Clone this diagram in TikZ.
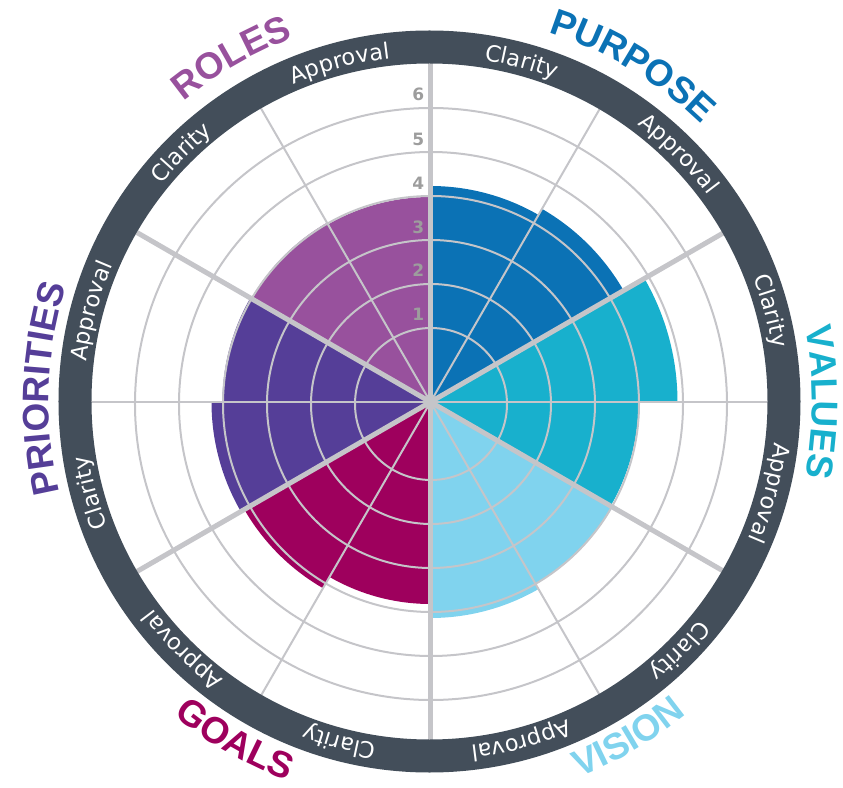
\documentclass[tikz,border=0pt]{standalone}
\usepackage{fontspec}
\setmainfont{DejaVu Sans}
\usetikzlibrary{decorations.text}
\definecolor{cpurpose}{HTML}{0B72B5}
\definecolor{cvalues}{HTML}{18B0CD}
\definecolor{cvision}{HTML}{80D3EE}
\definecolor{cgoals}{HTML}{9E005D}
\definecolor{cprior}{HTML}{553E98}
\definecolor{croles}{HTML}{98519D}
\definecolor{ringc}{HTML}{434E5A}
\definecolor{gridgray}{HTML}{C5C5C9}
\definecolor{numgray}{HTML}{9D9D9D}
\newfontfamily\labfam{DejaVu Sans}
\newfontfamily\ttlfam{Liberation Sans}
\newcommand\labfont{\labfam\fontsize{22.5pt}{27pt}\selectfont}
\newcommand\ttlfont{\ttlfam\bfseries\fontsize{37pt}{44pt}\selectfont}
\newcommand\numfont{\labfam\bfseries\fontsize{17pt}{20pt}\selectfont}
% clockwise text (tops outward): #1 centre angle, #2 baseline radius, #3 format, #4 text
\newcommand\cwlabel[4]{\path[decorate,decoration={text along path,text align=center,text={|#3|#4}}] ({#1+40}:#2) arc[start angle={#1+40},end angle={#1-40},radius=#2];}
% counter-clockwise text (tops inward)
\newcommand\ccwlabel[4]{\path[decorate,decoration={text along path,text align=center,text={|#3|#4}}] ({#1-40}:#2) arc[start angle={#1-40},end angle={#1+40},radius=#2];}
\tikzset{
  gridcircle/.style={draw=gridgray,line width=2pt},
  thinray/.style={draw=gridgray,line width=2pt},
  thickray/.style={draw=gridgray,line width=5pt},
  scalenum/.style={text=numgray,font=\numfont,anchor=east,inner sep=0pt},
}
\newcommand\sector[4]{\fill[#4] (O) -- (#1:#3) arc[start angle=#1,end angle=#2,radius=#3] -- cycle;}
\begin{document}
\begin{tikzpicture}
\useasboundingbox (-430.5pt,-385pt) rectangle (412.5pt,402pt);
\coordinate (O) at (0,0);
\coordinate (GC) at (0.5pt,-2pt);
\coordinate (RC) at (-1pt,0.5pt);
% data sectors
\sector{60}{90}{216pt}{cpurpose}
\sector{30}{60}{223pt}{cpurpose}
\sector{0}{30}{247pt}{cvalues}
\sector{-30}{0}{208pt}{cvalues}
\sector{-60}{-30}{210pt}{cvision}
\sector{-90}{-60}{216pt}{cvision}
\sector{-120}{-90}{202pt}{cgoals}
\sector{-150}{-120}{215pt}{cgoals}
\sector{-180}{-150}{219pt}{cprior}
\sector{150}{180}{208pt}{cprior}
\sector{120}{150}{207pt}{croles}
\sector{90}{120}{205pt}{croles}
% grid circles
\foreach \r in {76,120,164,208,252,296}{\draw[gridcircle] (GC) circle[radius=\r pt];}
% rays
\foreach \a in {0,60,120,180,240,300}{\draw[thinray] (O) -- (\a:339pt);}
\foreach \a in {30,90,150,210,270,330}{\draw[thickray] (O) -- (\a:339pt);}
% scale numbers
\node[scalenum] (n1) at (-6pt,88pt) {1};
\node[scalenum] (n2) at (-6pt,132pt) {2};
\node[scalenum] (n3) at (-6pt,175pt) {3};
\node[scalenum] (n4) at (-6pt,219pt) {4};
\node[scalenum] (n5) at (-6pt,263pt) {5};
\node[scalenum] (n6) at (-6pt,308pt) {6};
% outer ring
\fill[ringc,even odd rule] (RC) circle[radius=371pt] (RC) circle[radius=338pt];
% ring labels
\cwlabel{75}{346pt}{\color{white}\labfont}{Clarity}
\cwlabel{45}{346pt}{\color{white}\labfont}{Approval}
\cwlabel{15}{346pt}{\color{white}\labfont}{Clarity}
\cwlabel{-15}{346pt}{\color{white}\labfont}{Approval}
\cwlabel{-45}{346pt}{\color{white}\labfont}{Clarity}
\cwlabel{-75}{346pt}{\color{white}\labfont}{Approval}
\cwlabel{-105}{346pt}{\color{white}\labfont}{Clarity}
\cwlabel{-135}{346pt}{\color{white}\labfont}{Approval}
\cwlabel{-165}{346pt}{\color{white}\labfont}{Clarity}
\cwlabel{165}{346pt}{\color{white}\labfont}{Approval}
\cwlabel{135}{346pt}{\color{white}\labfont}{Clarity}
\cwlabel{105}{346pt}{\color{white}\labfont}{Approval}
% titles
\cwlabel{59}{388pt}{\color{cpurpose}\ttlfont}{PURPOSE}
\cwlabel{0}{382pt}{\color{cvalues}\ttlfont}{VALUES}
\cwlabel{178}{382pt}{\color{cprior}\ttlfont}{PRIORITIES}
\cwlabel{120}{389pt}{\color{croles}\ttlfont}{ROLES}
\ccwlabel{-59.5}{404pt}{\color{cvision}\ttlfont}{VISION}
\ccwlabel{-120}{405pt}{\color{cgoals}\ttlfont}{GOALS}
\end{tikzpicture}
\end{document}
